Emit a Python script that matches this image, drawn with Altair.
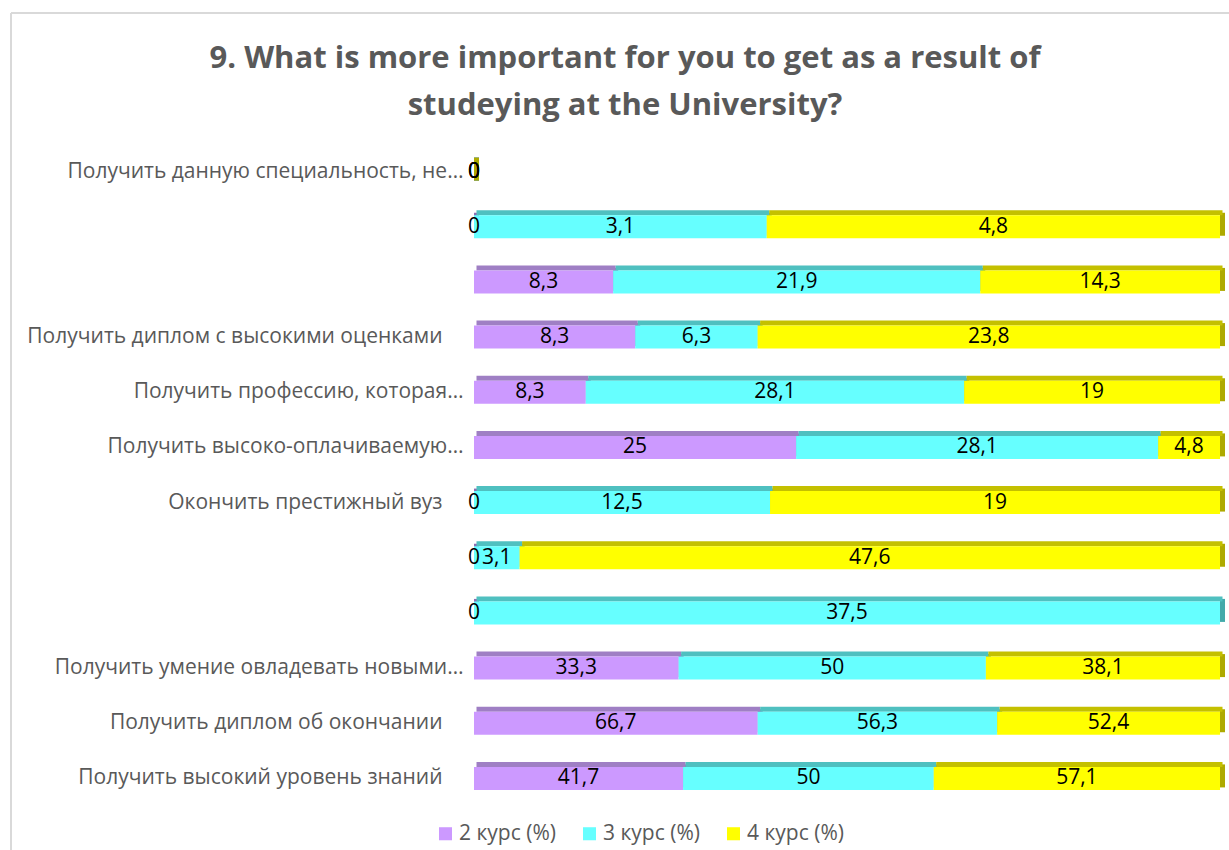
import json
import altair as alt
import pandas as pd

labels = [
    "Получить данную специальность, не…",
    "",
    "",
    "Получить диплом с высокими оценками",
    "Получить профессию, которая…",
    "Получить высоко-оплачиваемую…",
    "Окончить престижный вуз",
    "",
    "",
    "Получить умение овладевать новыми…",
    "Получить диплом об окончании",
    "Получить высокий уровень знаний",
]
series = ["2 курс (%)", "3 курс (%)", "4 курс (%)"]
s2 = [0, 0, 8.3, 8.3, 8.3, 25, 0, 0, 0, 33.3, 66.7, 41.7]
s3 = [0, 3.1, 21.9, 6.3, 28.1, 28.1, 12.5, 3.1, 37.5, 50, 56.3, 50]
s4 = [0, 4.8, 14.3, 23.8, 19, 4.8, 19, 47.6, None, 38.1, 52.4, 57.1]

front_colors = ["#CC99FF", "#66FFFF", "#FFFF00"]
top_colors = ["#9F7FC4", "#4FC0C0", "#C4C000"]
side_colors = ["#8E6FB3", "#43AAAA", "#AEAA00"]

rows = []
for order, (name, vals) in enumerate(zip(series, [s2, s3, s4])):
    for i, v in enumerate(vals):
        if v is None:
            continue
        rows.append({
            "idx": i,
            "series": name,
            "order": order,
            "value": v,
            "label": f"{v:g}".replace(".", ","),
        })
df = pd.DataFrame(rows)

FONT = "Open Sans"
W, H = 746, 662

base = (
    alt.Chart(df)
    .transform_joinaggregate(total="sum(value)", groupby=["idx"])
    .transform_calculate(frac="datum.total > 0 ? datum.value / datum.total : 0")
    .transform_stack(stack="frac", groupby=["idx"], as_=["x0", "x1"],
                     sort=[alt.SortField("order", order="ascending")])
    .transform_calculate(mid="(datum.x0 + datum.x1) / 2")
)

xsc = alt.Scale(domain=[0, 1], nice=False, zero=True)
ysc = alt.Scale(paddingInner=0, paddingOuter=0)
label_expr = json.dumps(labels, ensure_ascii=False) + "[datum.value]"
yenc = alt.Y("idx:O", scale=ysc, sort="ascending",
             axis=alt.Axis(title=None, labelExpr=label_expr, domain=False,
                           ticks=False, labelLimit=0,
                           labelPadding={"condition": {"test": "indexof([3, 6, 10, 11], datum.value) >= 0",
                                                       "value": 32},
                                         "value": 11},
                           labelFontSize=21, labelFont=FONT, labelColor="#595959"))

side = base.mark_bar(size=23, yOffset=-2.5, x2Offset=5).encode(
    x=alt.X("x1:Q", scale=xsc, axis=None),
    x2="x1:Q",
    y=yenc,
    color=alt.Color("series:N", scale=alt.Scale(domain=series, range=side_colors), legend=None),
)
top = base.mark_bar(size=5, yOffset=-14, xOffset=2.5, x2Offset=2.5).encode(
    x=alt.X("x0:Q", scale=xsc, axis=None),
    x2="x1:Q",
    y=yenc,
    color=alt.Color("series:N", scale=alt.Scale(domain=series, range=top_colors), legend=None),
)
front = base.mark_bar(size=23).encode(
    x=alt.X("x0:Q", scale=xsc, axis=None),
    x2="x1:Q",
    y=yenc,
    color=alt.Color("series:N", scale=alt.Scale(domain=series, range=front_colors),
                    legend=alt.Legend(title=None, orient="none", direction="horizontal",
                                      legendX=-39, legendY=679, symbolType="square",
                                      symbolSize=170, symbolStrokeWidth=0,
                                      labelFontSize=21, labelFont=FONT,
                                      labelColor="#595959", columnPadding=23,
                                      labelOffset=3)),
)
text = base.mark_text(fontSize=21, font=FONT, color="black", baseline="middle").encode(
    x=alt.X("mid:Q", scale=xsc, axis=None),
    y=yenc,
    text="label:N",
)

frame_df = pd.DataFrame({"a": [0]})
frame_left = alt.Chart(frame_df).mark_rule(color="#D9D9D9", strokeWidth=2).encode(
    x=alt.value(-463), y=alt.value(-131), y2=alt.value(H + 44))
frame_top = alt.Chart(frame_df).mark_rule(color="#D9D9D9", strokeWidth=2).encode(
    x=alt.value(-463), x2=alt.value(W + 9), y=alt.value(-131))

chart = (
    alt.layer(frame_left, frame_top, side, top, front, text)
    .resolve_scale(color="independent")
    .properties(
        width=W,
        height=H,
        autosize=alt.AutoSizeParams(type="none"),
        padding={"left": 474, "top": 144, "right": 9, "bottom": 44},
        title=alt.TitleParams(
            text=["9. What is more important for you to get as a result of",
                  "studeying at the University?"],
            font=FONT, fontSize=31, fontWeight="bold", color="#595959",
            anchor="middle", frame="group", dx=-222, dy=134, offset=24, lineHeight=47,
        ),
        background="white",
    )
    .configure_view(stroke=None)
)

chart.save("out.html", embed_options={"renderer": "svg", "actions": False})
